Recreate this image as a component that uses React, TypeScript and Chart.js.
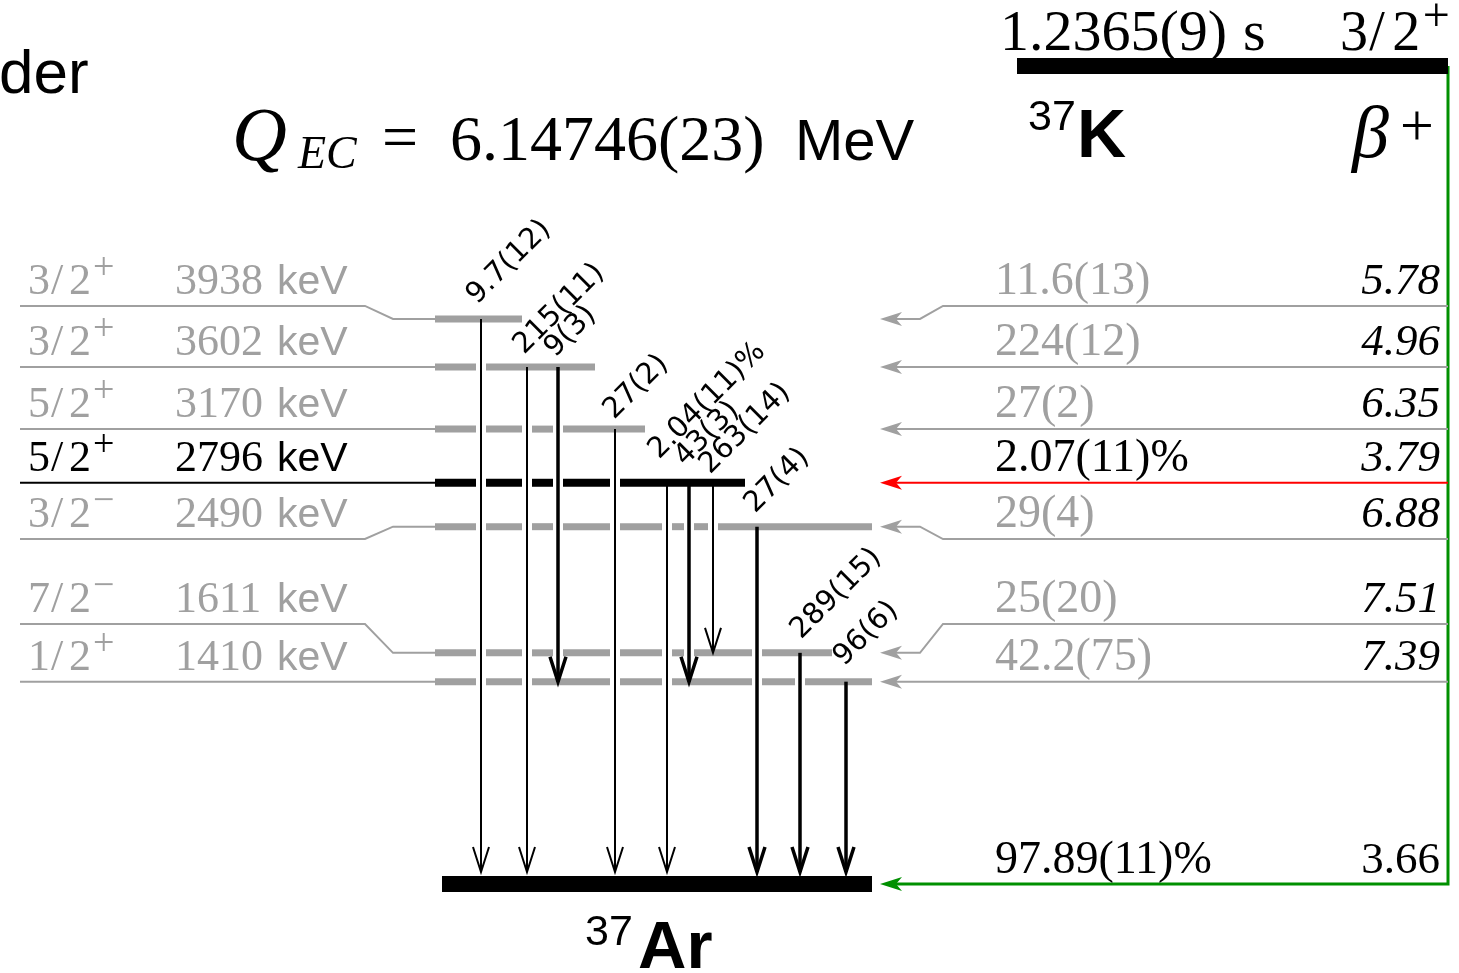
import { useEffect, useRef } from "react";
import { Chart, registerables } from "chart.js";
Chart.register(...registerables);

// ---------------- data ----------------
const levelKeV = [0, 1410, 1611, 2490, 2796, 3170, 3602, 3938];
const levelSpin = ["3/2+", "1/2+", "7/2-", "3/2-", "5/2+", "5/2+", "3/2+", "3/2+"];
const betaFeeding = ["97.89(11)%", "42.2(75)", "25(20)", "29(4)", "2.07(11)%", "27(2)", "224(12)", "11.6(13)"];
const logFt = ["3.66", "7.39", "7.51", "6.88", "3.79", "6.35", "4.96", "5.78"];
const levelObserved = [true, false, false, false, true, false, false, false];

const gammaFrom = [3938, 3602, 3602, 3170, 2796, 2796, 2796, 2490, 1611, 1410];
const gammaTo = [0, 0, 1410, 0, 0, 1410, 1611, 0, 0, 0];
const gammaIntensity = ["9.7(12)", "215(11)", "9(3)", "27(2)", "2.04(11)%", "43(3)", "263(14)", "27(4)", "289(15)", "96(6)"];

const parentName = "K";
const daughterName = "Ar";
const massNumber = "37";
const parentHalfLife = "1.2365(9)";
const parentSpin = "3/2+";
const qValue = "6.14746(23)";

// ---------------- layout (positions / styles only) ----------------
const W = 1459;
const H = 973;
const Y_MIN = -620;
const Y_MAX = 6160;
const PARENT_DRAW_KEV = 5700;
const labelRowKeV: Record<number, number> = { 3938: 4028, 2490: 2404, 1611: 1812 };
const gammaX = [481, 527, 558, 615, 667, 689, 713, 757, 800, 846];
const gammaBold = [false, false, true, false, false, true, false, true, true, true];
const gammaLabelOffset = [
  [-4, -14], [-3, -12], [-3, -9], [-1, -9], [-8, -23],
  [-4, -16], [-3, -8], [-2, -13], [1, -13], [-2, -15],
];
const barStartX = 435;
const barEndX: Record<number, number> = { 0: 872, 1410: 872, 1611: 832, 2490: 872, 2796: 745, 3170: 645, 3602: 595, 3938: 522 };
const GRAY = "#a0a0a0";
const GREEN = "#009000";
const RED = "#ff0000";
const SERIF = '"Liberation Serif", "DejaVu Serif", serif';
const SANS = '"Liberation Sans", Arial, sans-serif';
const GSANS = '"DejaVu Sans", sans-serif';

type Seg = { pts: { x: number; y: number }[]; color: string; width: number };

function rowOf(E: number) {
  return labelRowKeV[E] !== undefined ? labelRowKeV[E] : E;
}

function buildSegments(): Seg[] {
  const segs: Seg[] = [];
  segs.push({ pts: [{ x: 1017, y: PARENT_DRAW_KEV }, { x: 1448, y: PARENT_DRAW_KEV }], color: "#000", width: 16 });
  segs.push({ pts: [{ x: 442, y: 0 }, { x: 872, y: 0 }], color: "#000", width: 16 });
  levelKeV.forEach((E, i) => {
    const obs = levelObserved[i];
    if (i > 0) {
      const color = obs ? "#000" : GRAY;
      const gaps = gammaX.filter((_, j) => gammaFrom[j] > E && gammaTo[j] < E).sort((a, b) => a - b);
      let x0 = barStartX;
      const end = barEndX[E];
      gaps.forEach((g) => {
        if (g - 5 > x0 && g < end) {
          segs.push({ pts: [{ x: x0, y: E }, { x: g - 5, y: E }], color, width: obs ? 8 : 7 });
          x0 = g + 5;
        }
      });
      segs.push({ pts: [{ x: x0, y: E }, { x: end, y: E }], color, width: obs ? 8 : 7 });
      const r = rowOf(E);
      const left = r !== E
        ? [{ x: 20, y: r }, { x: 365, y: r }, { x: 393, y: E }, { x: barStartX, y: E }]
        : [{ x: 20, y: E }, { x: barStartX, y: E }];
      segs.push({ pts: left, color, width: 2 });
      const rc = obs ? RED : GRAY;
      const right = r !== E
        ? [{ x: 1448, y: r }, { x: 943, y: r }, { x: 920, y: E }, { x: 896, y: E }]
        : [{ x: 1448, y: E }, { x: 896, y: E }];
      segs.push({ pts: right, color: rc, width: 2 });
    }
  });
  segs.push({ pts: [{ x: 1448, y: PARENT_DRAW_KEV }, { x: 1448, y: 0 }, { x: 896, y: 0 }], color: GREEN, width: 3 });
  return segs;
}

function drawSpin(ctx: CanvasRenderingContext2D, spin: string, x: number, b: number, size: number, color: string) {
  const m = spin.match(/^(\d+)\/(\d+)([+-])$/);
  if (!m) return;
  const s = size / 44;
  ctx.fillStyle = color;
  ctx.textAlign = "left";
  ctx.font = `${size}px ${SERIF}`;
  ctx.fillText(m[1], x, b);
  ctx.fillText("/", x + 23 * s, b);
  ctx.fillText(m[2], x + 41 * s, b);
  ctx.font = `${Math.round(38 * s)}px ${SERIF}`;
  ctx.fillText(m[3] === "+" ? "+" : "\u2212", x + 65 * s, b - 15 * s);
}

const schemePlugin = {
  id: "scheme",
  afterDatasetsDraw(chart: any) {
    const ctx: CanvasRenderingContext2D = chart.ctx;
    const xs = chart.scales.x;
    const ys = chart.scales.y;
    const X = (v: number) => xs.getPixelForValue(v);
    const Y = (v: number) => ys.getPixelForValue(v);
    ctx.save();

    gammaFrom.forEach((from, j) => {
      const x = X(gammaX[j]);
      const y0 = Y(from);
      const tip = gammaTo[j] === 0 ? Y(0) - 12 : Y(gammaTo[j]);
      const w = gammaBold[j] ? 3.5 : 2;
      ctx.strokeStyle = "#000";
      ctx.lineWidth = w;
      ctx.lineCap = "butt";
      ctx.beginPath();
      ctx.moveTo(x, y0);
      ctx.lineTo(x, tip);
      ctx.stroke();
      ctx.beginPath();
      ctx.moveTo(x - 8, tip - 25);
      ctx.lineTo(x, tip);
      ctx.lineTo(x + 8, tip - 25);
      ctx.lineJoin = "miter";
      ctx.stroke();
      ctx.save();
      ctx.translate(x + gammaLabelOffset[j][0], y0 + gammaLabelOffset[j][1]);
      ctx.rotate(-Math.PI / 4);
      ctx.fillStyle = "#000";
      ctx.font = `29px ${GSANS}`;
      ctx.textAlign = "left";
      ctx.textBaseline = "alphabetic";
      ctx.fillText(gammaIntensity[j], 0, 0);
      ctx.restore();
    });

    levelKeV.forEach((E, i) => {
      const y = Y(E);
      const tx = X(880);
      ctx.fillStyle = i === 0 ? GREEN : levelObserved[i] ? RED : GRAY;
      ctx.beginPath();
      ctx.moveTo(tx, y);
      ctx.lineTo(tx + 22, y - 7);
      ctx.lineTo(tx + 16, y);
      ctx.lineTo(tx + 22, y + 7);
      ctx.closePath();
      ctx.fill();
    });

    ctx.textBaseline = "alphabetic";
    levelKeV.forEach((E, i) => {
      const r = Y(rowOf(E));
      const color = levelObserved[i] ? "#000" : GRAY;
      const b = r - 12;
      if (i > 0) {
        drawSpin(ctx, levelSpin[i], X(28), b, 44, color);
        ctx.fillStyle = color;
        ctx.textAlign = "left";
        ctx.font = `44px ${SERIF}`;
        ctx.fillText(String(E), X(175), b);
        ctx.font = `41px ${SANS}`;
        ctx.fillText("keV", X(277), b);
      }
      ctx.fillStyle = color;
      ctx.textAlign = "left";
      ctx.font = `46px ${SERIF}`;
      ctx.fillText(betaFeeding[i], X(995), i === 0 ? b + 1 : b);
      ctx.fillStyle = "#000";
      ctx.textAlign = "right";
      ctx.font = i === 0 ? `45px ${SERIF}` : `italic 45px ${SERIF}`;
      ctx.fillText(logFt[i], X(1440), i === 0 ? b + 1 : b);
    });

    ctx.fillStyle = "#000";
    ctx.textAlign = "left";
    ctx.font = `62px ${SANS}`;
    ctx.fillText("der", -1, 93);

    ctx.font = `italic 76px ${SERIF}`;
    ctx.fillText("Q", 232, 160);
    ctx.font = `italic 46px ${SERIF}`;
    ctx.fillText("EC", 298, 168);
    ctx.font = `64px ${SERIF}`;
    ctx.fillText("=", 382, 158);
    ctx.fillText(qValue, 450, 160);
    ctx.font = `58px ${SANS}`;
    ctx.fillText("MeV", 795, 160);

    const pY = Y(PARENT_DRAW_KEV);
    ctx.font = `58px ${SERIF}`;
    ctx.fillText(parentHalfLife, 1000, pY - 16);
    ctx.fillText("s", 1243, pY - 16);
    drawSpin(ctx, parentSpin, 1340, pY - 16, 56, "#000");

    ctx.font = `43px ${SANS}`;
    ctx.fillText(massNumber, 1028, 130);
    ctx.font = `bold 68px ${SANS}`;
    ctx.fillText(parentName, 1077, 157);

    ctx.font = `italic 74px ${SERIF}`;
    ctx.fillText("\u03B2", 1352, 157);
    ctx.font = `60px ${SERIF}`;
    ctx.fillText("+", 1400, 145);

    ctx.font = `43px ${SANS}`;
    ctx.fillText(massNumber, 585, 945);
    ctx.font = `bold 67px ${SANS}`;
    ctx.fillText(daughterName, 638, 968);

    ctx.restore();
  },
};

export default function App() {
  const ref = useRef<HTMLCanvasElement | null>(null);
  useEffect(() => {
    if (!ref.current) return;
    const segs = buildSegments();
    const chart = new Chart(ref.current, {
      type: "scatter",
      data: {
        datasets: segs.map((s) => ({
          data: s.pts,
          borderColor: s.color,
          backgroundColor: s.color,
          borderWidth: s.width,
          pointRadius: 0,
          showLine: true,
          fill: false,
          tension: 0,
          borderCapStyle: "butt",
          borderJoinStyle: "miter",
          clip: false,
        })) as any,
      },
      options: {
        animation: false,
        responsive: false,
        devicePixelRatio: 1,
        events: [],
        layout: { padding: 0 },
        plugins: { legend: { display: false }, tooltip: { enabled: false } },
        scales: {
          x: { type: "linear", min: 0, max: W, display: false },
          y: { type: "linear", min: Y_MIN, max: Y_MAX, display: false },
        },
      },
      plugins: [schemePlugin],
    });
    return () => chart.destroy();
  }, []);
  return (
    <div style={{ position: "fixed", left: 0, top: 0, width: W, height: H, background: "#fff" }}>
      <canvas ref={ref} width={W} height={H} style={{ width: W, height: H, display: "block" }} />
    </div>
  );
}
